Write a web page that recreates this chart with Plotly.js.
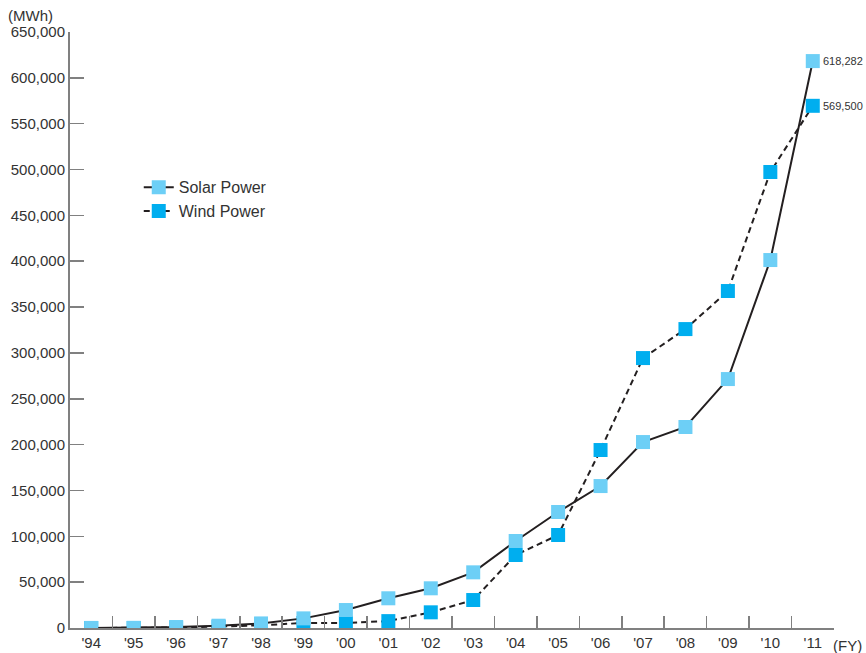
<!DOCTYPE html>
<html>
<head>
<meta charset="utf-8">
<script src="https://cdn.plot.ly/plotly-3.0.1.min.js"></script>
<style>html,body{margin:0;padding:0;background:#fff;}#chart{width:866px;height:653px;}</style>
</head>
<body>
<div id="chart"></div>
<script>
const years = ["'94","'95","'96","'97","'98","'99","'00","'01","'02","'03","'04","'05","'06","'07","'08","'09","'10","'11"];
const solarPower = [100, 200, 1000, 2500, 5000, 10500, 19600, 32400, 43300, 60700, 94900, 126500, 154800, 202800, 219200, 271500, 401300, 618282];
const windPower = [0, 0, 500, 1500, 3000, 5500, 5500, 7500, 17100, 30500, 79600, 101400, 194100, 294400, 326000, 367500, 497300, 569500];
const yTickVals = [0, 50000, 100000, 150000, 200000, 250000, 300000, 350000, 400000, 450000, 500000, 550000, 600000, 650000];

const lineColor = '#231f20';
const axisColor = '#808080';
const textColor = '#333333';
const font = 'Liberation Sans, Arial, sans-serif';

const traces = [
  {
    x: years, y: solarPower, name: 'Solar Power', type: 'scatter', mode: 'lines+markers',
    line: {color: lineColor, width: 2},
    marker: {symbol: 'square', size: 14, color: '#6dcff6'}
  },
  {
    x: years, y: windPower, name: 'Wind Power', type: 'scatter', mode: 'lines+markers',
    line: {color: lineColor, width: 2, dash: '6px,4px'},
    marker: {symbol: 'square', size: 14, color: '#00aeef'}
  }
];
// draw solar on top of wind for early points
traces.reverse();

const n = years.length;
const layout = {
  width: 866, height: 653,
  margin: {l: 70, r: 32, t: 32, b: 25},
  paper_bgcolor: '#fff', plot_bgcolor: '#fff',
  font: {family: font, size: 15, color: textColor},
  showlegend: true,
  legend: {
    x: 0.09, y: 0.768, xanchor: 'left', yanchor: 'top',
    traceorder: 'reversed',
    font: {family: font, size: 16, color: textColor},
    bgcolor: 'rgba(0,0,0,0)', itemwidth: 30, tracegroupgap: 0
  },
  xaxis: {
    type: 'category', range: [-0.5, n - 0.5],
    showline: true, linecolor: axisColor, linewidth: 2,
    ticks: 'inside', tickson: 'boundaries', ticklen: 12, tickcolor: axisColor, tickwidth: 1.5,
    showgrid: false, zeroline: false,
    tickfont: {family: font, size: 15, color: textColor},
    fixedrange: true
  },
  yaxis: {
    range: [0, 650000], tickvals: yTickVals, tickformat: ',d',
    showline: true, linecolor: axisColor, linewidth: 2,
    ticks: 'inside', ticklen: 14, tickcolor: axisColor, tickwidth: 1.5,
    showgrid: false, zeroline: false,
    tickfont: {family: font, size: 15, color: textColor},
    fixedrange: true
  },
  annotations: [
    {x: years[n-1], y: solarPower[n-1], xref: 'x', yref: 'y', text: solarPower[n-1].toLocaleString('en-US'),
     showarrow: false, xanchor: 'left', xshift: 8, font: {family: 'Liberation Sans Narrow, Arial Narrow, sans-serif', size: 11, color: textColor}},
    {x: years[n-1], y: windPower[n-1], xref: 'x', yref: 'y', text: windPower[n-1].toLocaleString('en-US'),
     showarrow: false, xanchor: 'left', xshift: 8, font: {family: 'Liberation Sans Narrow, Arial Narrow, sans-serif', size: 11, color: textColor}},
    {x: 1.039, y: -0.029, xref: 'paper', yref: 'paper', text: '(FY)', showarrow: false, xanchor: 'right', yanchor: 'middle',
     font: {family: font, size: 15, color: textColor}},
    {x: -0.052, y: 1.027, xref: 'paper', yref: 'paper', text: '(MWh)', showarrow: false, xanchor: 'center', yanchor: 'middle',
     font: {family: font, size: 15, color: textColor}}
  ]
};

Plotly.newPlot('chart', traces, layout, {displayModeBar: false, staticPlot: true});
</script>
</body>
</html>
